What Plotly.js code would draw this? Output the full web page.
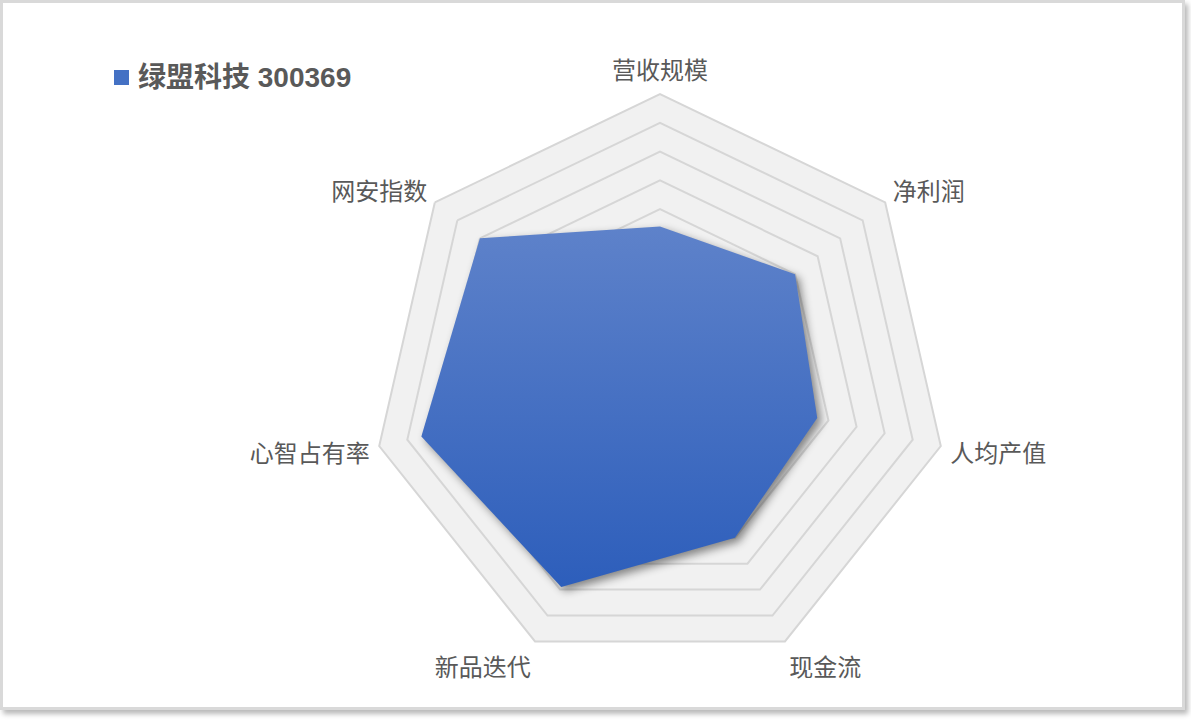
<!DOCTYPE html>
<html>
<head>
<meta charset="utf-8">
<script src="https://cdn.plot.ly/plotly-3.0.1.min.js"></script>
<style>
  html, body { margin: 0; padding: 0; background: #fff; }
  #frame {
    position: absolute; left: 0; top: 0; width: 1185px; height: 710px;
    box-sizing: border-box; border: 3px solid #d9d9d9; background: #fff;
    box-shadow: 3px 4px 5px rgba(0,0,0,0.28);
  }
  #chart { position: absolute; left: 0; top: 0; width: 1191px; height: 720px; }
  /* soft shadow under the filled polygon */
  #chart path.js-fill { filter: drop-shadow(4px 4px 4px rgba(0,0,0,0.45)); }
</style>
</head>
<body>
<div id="frame"></div>
<div id="chart"></div>
<script>
// ── data ──
const seriesName = "绿盟科技 300369";
const dims = ["营收规模", "净利润", "人均产值", "现金流", "新品迭代", "心智占有率", "网安指数"];
const scores = [54, 60, 56, 60, 79, 85, 80];

const FONT = "'Liberation Sans', 'Noto Sans CJK SC', sans-serif";
const W = 1191, H = 720;
const CX = 660, CY = 382, R = 288;   // polar centre / radius in px

const trace = {
    type: "scatterpolar",
    r: [...scores, scores[0]],
    theta: [...dims, dims[0]],
    mode: "none",
    fill: "toself",
    fillcolor: "#4471c4",
    name: seriesName,
    hoverinfo: "theta+r",
    showlegend: false
};

const layout = {
    width: W, height: H,
    margin: { l: 0, r: 0, t: 0, b: 0 },
    paper_bgcolor: "rgba(0,0,0,0)",
    font: { family: FONT, color: "#595959" },
    polar: {
        domain: { x: [(CX - R) / W, (CX + R) / W], y: [(H - CY - R) / H, (H - CY + R) / H] },
        gridshape: "linear",
        bgcolor: "#f1f1f1",
        radialaxis: {
            range: [0, 100], dtick: 10, showticklabels: false, ticks: "",
            showline: false, gridcolor: "#d6d6d6", gridwidth: 2
        },
        angularaxis: {
            direction: "clockwise", rotation: 90, showgrid: false,
            ticks: "outside", ticklen: 4, tickcolor: "rgba(0,0,0,0)",
            showline: true, linecolor: "#d6d6d6", linewidth: 2,
            tickfont: { size: 24, color: "#595959", family: FONT }
        }
    },
    shapes: [{
        type: "rect", xref: "paper", yref: "paper",
        x0: 114 / W, x1: 129 / W, y0: (H - 85) / H, y1: (H - 70) / H,
        fillcolor: "#4471c4", line: { width: 0 }
    }],
    annotations: [{
        xref: "paper", yref: "paper", x: 136 / W, y: (H - 78) / H,
        xanchor: "left", yanchor: "middle", showarrow: false,
        text: "<b>" + seriesName + "</b>",
        font: { size: 28, color: "#595959", family: FONT }
    }]
};

Plotly.newPlot("chart", [trace], layout, { displayModeBar: false, staticPlot: true }).then(gd => {
    // vertical blue gradient on the filled polygon
    const NS = "http://www.w3.org/2000/svg";
    const svg = gd.querySelector("svg.main-svg");
    let defs = svg.querySelector("defs");
    if (!defs) { defs = document.createElementNS(NS, "defs"); svg.prepend(defs); }
    const g = document.createElementNS(NS, "linearGradient");
    g.setAttribute("id", "polyGrad");
    g.setAttribute("x1", "0"); g.setAttribute("y1", "0");
    g.setAttribute("x2", "0"); g.setAttribute("y2", "1");
    [["0", "#5e82ca"], ["1", "#2d5ebb"]].forEach(([o, c]) => {
        const s = document.createElementNS(NS, "stop");
        s.setAttribute("offset", o); s.setAttribute("stop-color", c);
        g.appendChild(s);
    });
    defs.appendChild(g);
    gd.querySelectorAll("path.js-fill").forEach(p => { p.style.fill = "url(#polyGrad)"; });
});
</script>
</body>
</html>
